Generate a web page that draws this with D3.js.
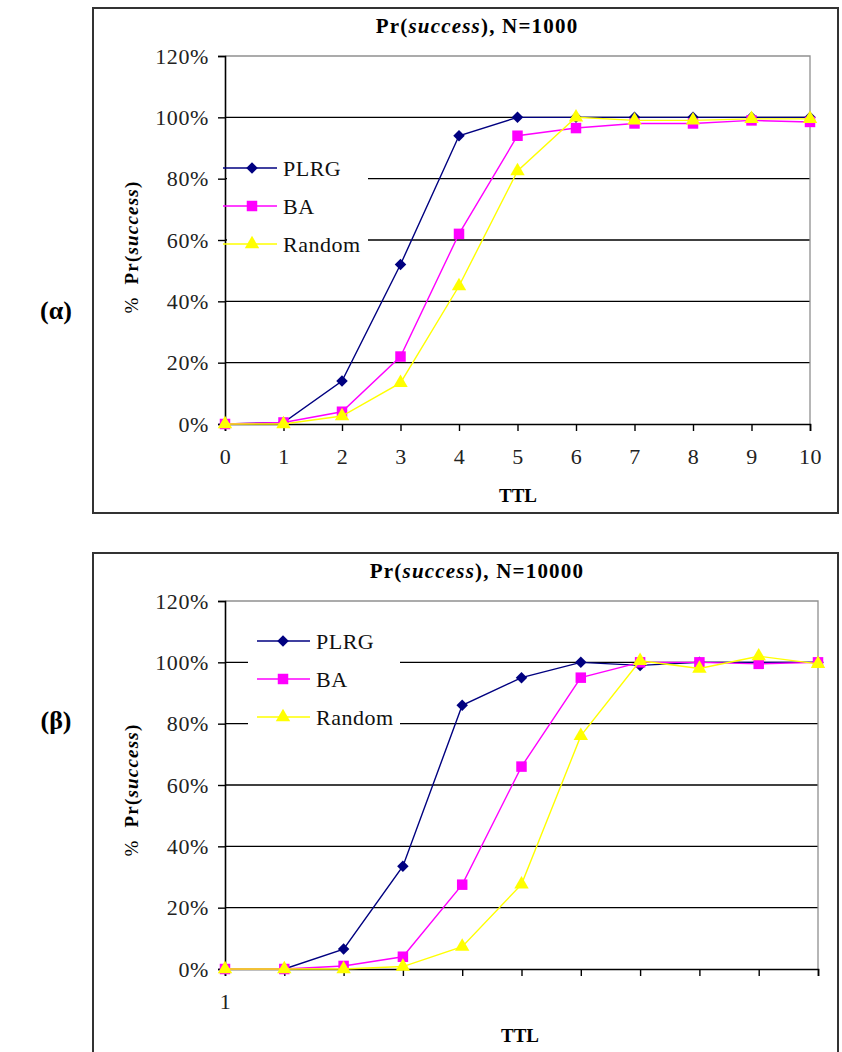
<!DOCTYPE html>
<html><head><meta charset="utf-8">
<script src="https://cdn.jsdelivr.net/npm/d3@7"></script>
<style>
body{margin:0;background:#fff;}
svg{display:block;font-family:"Liberation Serif","Times New Roman",serif;}
</style></head>
<body><svg id="c" width="842" height="1052"></svg>
<script>
// ---- Data ----
const seriesNames = ["PLRG", "BA", "Random"];
const seriesColors = ["#000080", "#FF00FF", "#FFFF00"];
const yTicks = [0, 0.2, 0.4, 0.6, 0.8, 1.0, 1.2];

// Chart (α): N=1000
const ttlA = [0, 1, 2, 3, 4, 5, 6, 7, 8, 9, 10];
const plrgA = [0, 0.005, 0.14, 0.52, 0.94, 1.0, 1.0, 1.0, 1.0, 1.0, 1.0];
const baA = [0, 0.005, 0.04, 0.22, 0.62, 0.94, 0.965, 0.98, 0.98, 0.99, 0.985];
const randomA = [0, 0.0, 0.026, 0.134, 0.45, 0.825, 1.0, 0.99, 0.99, 0.995, 0.995];

// Chart (β): N=10000
const ttlB = ["1", "2", "3", "4", "5", "6", "7", "8", "9", "10", "11"];
const ttlLabelsB = ["1", "", "", "", "", "", "", "", "", "", ""];
const plrgB = [0, 0, 0.065, 0.335, 0.86, 0.95, 1.0, 0.99, 1.0, 1.0, 1.0];
const baB = [0, 0, 0.01, 0.04, 0.275, 0.66, 0.95, 1.0, 1.0, 0.995, 1.0];
const randomB = [0, 0, 0.0, 0.008, 0.073, 0.276, 0.76, 1.005, 0.98, 1.02, 0.995];

const svg = d3.select("#c");
const pct = d3.format(".0%");

const markerPaths = [
  d3.symbol(d3.symbolSquare, 66)(),   // diamond (rotated square)
  d3.symbol(d3.symbolSquare, 110)(),  // square
  d3.symbol(d3.symbolTriangle, 90)()  // triangle
];
const markerRot = [45, 0, 0];

function drawChart(cfg) {
  const g = svg.append("g");
  g.append("rect").attr("x", cfg.box[0]).attr("y", cfg.box[1]).attr("width", cfg.box[2]).attr("height", cfg.box[3])
    .attr("fill", "#fff").attr("stroke", "#333").attr("stroke-width", 2);

  const x = cfg.x, y = cfg.y;
  const [x0, x1] = x.range();
  const [yb, yt] = y.range();

  g.append("g").selectAll("line").data(yTicks.filter(d => d > 0 && d < 1.2)).join("line")
    .attr("x1", x0).attr("x2", x1).attr("y1", d => y(d)).attr("y2", d => y(d))
    .attr("stroke", "#000").attr("stroke-width", 1.4);
  g.append("path").attr("d", `M${x0},${yt}H${x1}V${yb}`).attr("fill", "none").attr("stroke", "#909090").attr("stroke-width", 1.3);

  const L = cfg.legend;
  g.append("rect").attr("x", L.rect[0]).attr("y", L.rect[1]).attr("width", L.rect[2]).attr("height", L.rect[3]).attr("fill", "#fff");

  const ya = g.append("g").attr("transform", `translate(${x0},0)`)
    .call(d3.axisLeft(y).tickValues(yTicks).tickFormat(pct).tickSize(7).tickPadding(9));
  const xa = g.append("g").attr("transform", `translate(0,${yb})`)
    .call(cfg.xAxis);
  [ya, xa].forEach(a => {
    a.select(".domain").attr("stroke", "#000").attr("stroke-width", 1.6);
    a.selectAll(".tick line").attr("stroke", "#000").attr("stroke-width", 1.4);
    a.selectAll("text").attr("font-size", 22).attr("letter-spacing", 0.6).attr("fill", "#222").attr("font-family", "Liberation Serif");
  });

  cfg.series.forEach((vals, i) => {
    const pts = vals.map((v, k) => [x(cfg.cats[k]), y(v)]);
    g.append("path").attr("d", d3.line()(pts)).attr("fill", "none")
      .attr("stroke", seriesColors[i]).attr("stroke-width", 1.4);
    g.append("g").selectAll("path").data(pts).join("path")
      .attr("d", markerPaths[i])
      .attr("transform", d => `translate(${d[0]},${d[1]}) rotate(${markerRot[i]})`)
      .attr("fill", seriesColors[i]);
  });

  seriesNames.forEach((n, i) => {
    const yy = L.rows[i];
    g.append("line").attr("x1", L.line[0]).attr("x2", L.line[1]).attr("y1", yy).attr("y2", yy)
      .attr("stroke", seriesColors[i]).attr("stroke-width", 1.4);
    g.append("path").attr("d", markerPaths[i])
      .attr("transform", `translate(${L.marker},${yy}) rotate(${markerRot[i]})`).attr("fill", seriesColors[i]);
    g.append("text").attr("x", L.text).attr("y", yy).attr("dy", "0.35em")
      .attr("font-size", 22).attr("letter-spacing", 0.5).attr("fill", "#111").text(n);
  });

  const t = g.append("text").attr("x", cfg.title[0]).attr("y", cfg.title[1]).attr("text-anchor", "middle")
    .attr("font-size", 21).attr("letter-spacing", 1.2).attr("font-weight", "bold").attr("fill", "#000");
  t.append("tspan").text("Pr(");
  t.append("tspan").attr("font-style", "italic").text("success");
  t.append("tspan").text(`), N=${cfg.n}`);

  const yl = g.append("text").attr("transform", `translate(${cfg.ylab[0]},${cfg.ylab[1]}) rotate(-90)`)
    .attr("text-anchor", "middle").attr("dy", "0.35em").attr("font-size", 19).attr("letter-spacing", 1.2).attr("fill", "#000");
  yl.append("tspan").text("%\u00a0\u00a0");
  yl.append("tspan").attr("font-weight", "bold").text("Pr(");
  yl.append("tspan").attr("font-weight", "bold").attr("font-style", "italic").text("success");
  yl.append("tspan").attr("font-weight", "bold").text(")");

  g.append("text").attr("x", cfg.xlab[0]).attr("y", cfg.xlab[1]).attr("dy", "0.35em").attr("text-anchor", "middle")
    .attr("font-size", 19).attr("font-weight", "bold").text("TTL");

  g.append("text").attr("x", cfg.panel[0]).attr("y", cfg.panel[1]).attr("dy", "0.35em").attr("text-anchor", "middle")
    .attr("font-size", 26).attr("font-weight", "bold").attr("font-family", "Liberation Serif").text(cfg.panelText);
}

const xA = d3.scaleLinear().domain([0, 10]).range([225, 810]);
const yA = d3.scaleLinear().domain([0, 1.2]).range([424, 56]);
drawChart({
  box: [93, 8, 745, 505], x: xA, y: yA, cats: ttlA, n: 1000,
  xAxis: d3.axisBottom(xA).tickValues(ttlA).tickFormat(d3.format("d")).tickSize(7).tickPadding(17),
  series: [plrgA, baA, randomA],
  legend: { rect: [227, 150, 141, 112], rows: [168, 206, 244], line: [223, 277], marker: 252, text: 283 },
  title: [477, 33], ylab: [131, 247], xlab: [518, 495], panel: [56, 310], panelText: "(α)"
});

const xB = d3.scalePoint().domain(ttlB).range([225, 818]);
const yB = d3.scaleLinear().domain([0, 1.2]).range([969, 601]);
drawChart({
  box: [93, 553, 745, 530], x: xB, y: yB, cats: ttlB, n: 10000,
  xAxis: d3.axisBottom(xB).tickFormat((d, i) => ttlLabelsB[i]).tickSize(7).tickPadding(17),
  series: [plrgB, baB, randomB],
  legend: { rect: [248, 622, 152, 116], rows: [641, 679, 717], line: [257, 310], marker: 283, text: 316 },
  title: [477, 578], ylab: [131, 790], xlab: [520, 1035], panel: [56, 720], panelText: "(β)"
});
</script>
</body></html>
